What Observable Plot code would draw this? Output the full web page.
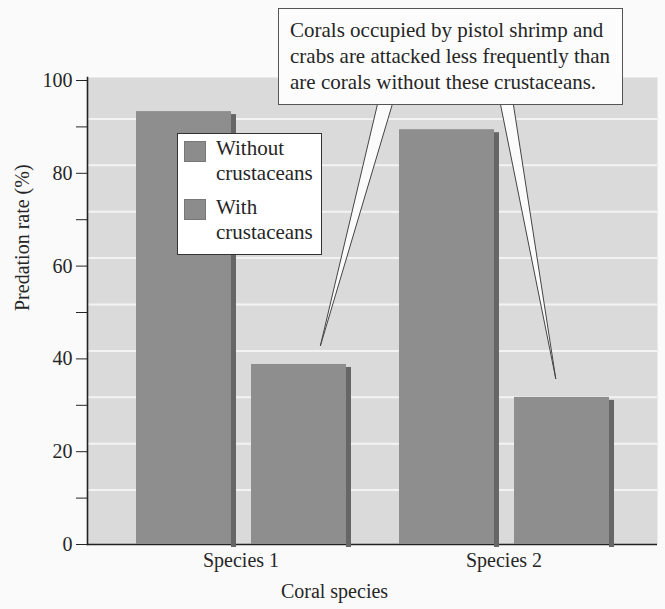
<!DOCTYPE html>
<html>
<head>
<meta charset="utf-8">
<script src="https://cdn.jsdelivr.net/npm/d3@7"></script>
<script src="https://cdn.jsdelivr.net/npm/@observablehq/plot@0.6"></script>
<style>
  html, body { margin: 0; padding: 0; background: #fafafa; }
  #chart { position: relative; width: 665px; height: 609px; background: #fafafa; font-family: "Liberation Serif", "Times New Roman", serif; color: #262626; overflow: hidden; }
  #chart > svg { position: absolute; left: 0; top: 0; }
  .legend { position: absolute; left: 177px; top: 133px; width: 145px; height: 122px; box-sizing: border-box; border: 1.5px solid #333; background: #fff; }
  .legend .sw { position: absolute; left: 6px; width: 22px; height: 21px; background: #8c8c8c; border: 1px solid #777; box-sizing: border-box; }
  .legend .lab { position: absolute; left: 38px; font-size: 21px; line-height: 25px; white-space: nowrap; }
  .callout { position: absolute; left: 278px; top: 8px; width: 345px; height: 97px; box-sizing: border-box; border: 1.2px solid #555; background: #fcfcfc; padding: 8px 0 0 11px; font-size: 21px; line-height: 26px; white-space: nowrap; }
</style>
</head>
<body>
<div id="chart"></div>
<script>
// ---- data ----
const species = ["Species 1", "Species 2"];
const conditions = ["Without crustaceans", "With crustaceans"];
const legendLines = [["Without", "crustaceans"], ["With", "crustaceans"]];
const withoutValues = [93.3, 89.4];
const withValues = [38.8, 31.7];
const yTicks = [0, 20, 40, 60, 80, 100];
const yMinorTicks = [10, 30, 50, 70, 90];
const gridValues = [10, 20, 30, 40, 50, 60, 70, 80, 90];
const yLabel = "Predation rate (%)";
const xLabel = "Coral species";
const calloutLines = [
  "Corals occupied by pistol shrimp and",
  "crabs are attacked less frequently than",
  "are corals without these crustaceans."
];

const data = species.flatMap((s, i) => [
  {species: s, condition: conditions[0], value: withoutValues[i]},
  {species: s, condition: conditions[1], value: withValues[i]}
]);

const W = 665, H = 609;
const common = {
  width: W, height: H,
  marginLeft: 87, marginRight: 8, marginTop: 77, marginBottom: 65,
  style: {background: "transparent", fontFamily: "Liberation Serif, Times New Roman, serif", fontSize: "20px", color: "#262626"}
};

// Base plot: background, grid, y axis, labels
const base = Plot.plot({
  ...common,
  y: {domain: [0, 100], range: [544, 80]},
  marks: [
    Plot.frame({fill: "#dadada", stroke: null}),
    Plot.ruleY(gridValues, {stroke: "#f3f3f3", strokeWidth: 2, dy: -8}),
    Plot.axisY({ticks: yTicks, tickSize: 11, tickPadding: 4, label: null, tickFormat: d => String(d), fontSize: 20}),
    Plot.axisY({ticks: yMinorTicks, tickSize: 11, label: null, tickFormat: () => ""}),
    Plot.frame({anchor: "left", stroke: "#222", strokeWidth: 1.6}),
    Plot.ruleY([0], {stroke: "#222", strokeWidth: 1.6}),
    Plot.text([yLabel], {frameAnchor: "left", rotate: -90, dx: -65, fontSize: 20, fill: "#262626"}),
    Plot.text([xLabel], {frameAnchor: "bottom", dy: 53, dx: -38, fontSize: 20, fill: "#262626"})
  ]
});

// Bars plot (faceted by species)
const bars = Plot.plot({
  ...common,
  y: {domain: [0, 100], range: [544, 80], axis: null},
  fx: {domain: species, paddingInner: 0.198, paddingOuter: 0.181, label: null},
  x: {domain: conditions, paddingInner: 0.174, paddingOuter: 0, axis: null},
  marks: [
    Plot.barY(data, {fx: "species", x: "condition", y: "value", fill: "#666", insetLeft: 90, dx: 5, dy: 3}),
    Plot.barY(data, {fx: "species", x: "condition", y: "value", fill: "#8e8e8e", className: "frontbar"}),
    Plot.axisFx({anchor: "bottom", tickSize: 0, tickPadding: 8, label: null, fontSize: 20})
  ]
});

const chart = document.getElementById("chart");
chart.appendChild(base);
chart.appendChild(bars);

// Legend (HTML)
const legend = document.createElement("div");
legend.className = "legend";
legendLines.forEach((lines, i) => {
  const sw = document.createElement("div");
  sw.className = "sw";
  sw.style.top = (7 + i * 58) + "px";
  legend.appendChild(sw);
  const lab = document.createElement("div");
  lab.className = "lab";
  lab.style.top = (2 + i * 59) + "px";
  lab.innerHTML = lines.join("<br>");
  legend.appendChild(lab);
});
chart.appendChild(legend);

// Callout wedges computed from rendered bars
const ns = "http://www.w3.org/2000/svg";
const wsvg = document.createElementNS(ns, "svg");
wsvg.setAttribute("width", W); wsvg.setAttribute("height", H);
wsvg.style.pointerEvents = "none";
chart.appendChild(wsvg);

const cRect = chart.getBoundingClientRect();
const rects = Array.from(bars.querySelectorAll(".frontbar rect"))
  .map(r => r.getBoundingClientRect())
  .map(b => ({left: b.left - cRect.left, top: b.top - cRect.top, width: b.width}))
  .sort((a, b) => a.left - b.left);

const boxLeft = 278, boxBottom = 105;
const wedges = [
  {bar: rects[1], frac: 0.73, base: [100, 115]},
  {bar: rects[3], frac: 0.44, base: [222, 235]}
];
wedges.forEach(w => {
  if (!w.bar) return;
  const ax = w.bar.left + w.frac * w.bar.width;
  const ay = w.bar.top - 18;
  const p = document.createElementNS(ns, "polygon");
  p.setAttribute("points", `${boxLeft + w.base[0]},${boxBottom - 3} ${ax},${ay} ${boxLeft + w.base[1]},${boxBottom - 3}`);
  p.setAttribute("fill", "#fbfbfb");
  p.setAttribute("stroke", "#444");
  p.setAttribute("stroke-width", "1");
  wsvg.appendChild(p);
});

// Callout box
const callout = document.createElement("div");
callout.className = "callout";
callout.innerHTML = calloutLines.join("<br>");
chart.appendChild(callout);
</script>
</body>
</html>
